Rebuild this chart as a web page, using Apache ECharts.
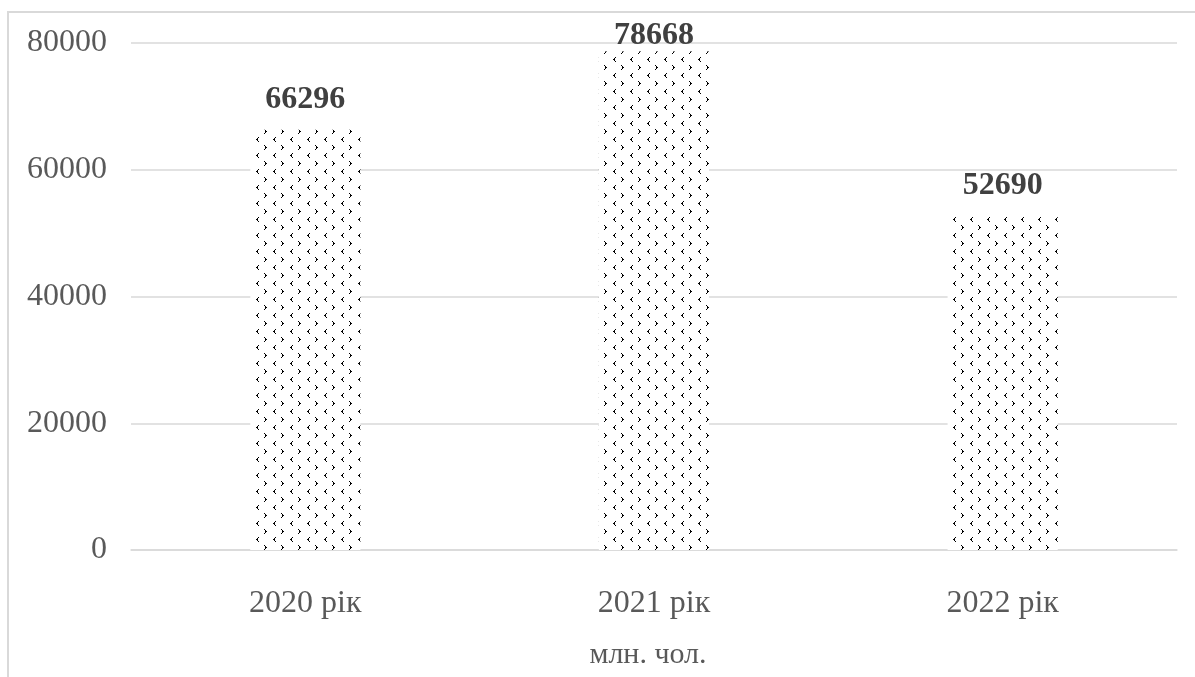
<!DOCTYPE html>
<html>
<head>
<meta charset="utf-8">
<script src="https://cdn.jsdelivr.net/npm/echarts@6/dist/echarts.min.js"></script>
<style>
  html, body { margin: 0; padding: 0; background: #fff; }
  #chart { width: 1195px; height: 677px; }
</style>
</head>
<body>
<div id="chart"></div>
<script>
// Years and values
const categories = ['2020 рік', '2021 рік', '2022 рік'];
const values = [66296, 78668, 52690];
const yTicks = { min: 0, max: 80000, interval: 20000 };
const axisTitle = 'млн. чол.';

// Small dotted chevron tile used as the bar fill
function makeTile() {
  const c = document.createElement('canvas');
  c.width = 17; c.height = 16;
  const g = c.getContext('2d');
  g.fillStyle = '#fff';
  g.fillRect(0, 0, 17, 16);
  g.fillStyle = '#000';
  // ">" mark
  const gt = (x, y) => {
    g.fillRect(x, y, 1, 1); g.fillRect(x + 1, y + 1, 1, 1);
    g.fillRect(x + 1, y + 2, 2, 1); g.fillRect(x + 1, y + 3, 1, 1); g.fillRect(x, y + 4, 1, 1);
  };
  // "<" mark
  const lt = (x, y) => {
    g.fillRect(x + 2, y, 1, 1); g.fillRect(x + 1, y + 1, 1, 1);
    g.fillRect(x, y + 2, 2, 1); g.fillRect(x + 1, y + 3, 1, 1); g.fillRect(x + 2, y + 4, 1, 1);
  };
  gt(9, 1);
  lt(1, 9);
  return c;
}

const labelFont = '"Liberation Serif", "Times New Roman", serif';

const chart = echarts.init(document.getElementById('chart'));
chart.setOption({
  backgroundColor: '#fff',
  animation: false,
  graphic: [{
    type: 'rect',
    shape: { x: 8, y: 12, width: 1300, height: 800 },
    style: { fill: 'none', stroke: '#d9d9d9', lineWidth: 2 },
    silent: true,
    z: -1
  }, {
    type: 'text',
    x: 648,
    y: 655,
    style: {
      text: axisTitle,
      fontSize: 30,
      fontFamily: labelFont,
      fill: '#595959',
      align: 'center',
      verticalAlign: 'middle'
    },
    silent: true
  }],
  grid: { left: 131, right: 18, top: 43, bottom: 127 },
  xAxis: {
    type: 'category',
    data: categories,
    axisLine: { lineStyle: { color: '#d9d9d9', width: 1.5 } },
    axisTick: { show: false },
    axisLabel: { color: '#595959', fontFamily: labelFont, fontSize: 32, margin: 38 }
  },
  yAxis: {
    type: 'value',
    min: yTicks.min, max: yTicks.max, interval: yTicks.interval,
    axisLine: { show: false },
    axisTick: { show: false },
    splitLine: { lineStyle: { color: '#d9d9d9', width: 1.5 } },
    axisLabel: {
      color: '#595959', fontFamily: labelFont, fontSize: 32, margin: 24,
      formatter: v => String(v)
    }
  },
  series: [{
    type: 'bar',
    data: values.map((v, i) => i === 1 ? { value: v, label: { distance: 0 } } : v),
    barWidth: '31.6%',
    itemStyle: { color: { image: makeTile(), repeat: 'repeat' } },
    label: {
      show: true,
      position: 'top',
      distance: 14,
      color: '#404040',
      fontFamily: labelFont,
      fontWeight: 'bold',
      fontSize: 32
    }
  }]
});
</script>
</body>
</html>
